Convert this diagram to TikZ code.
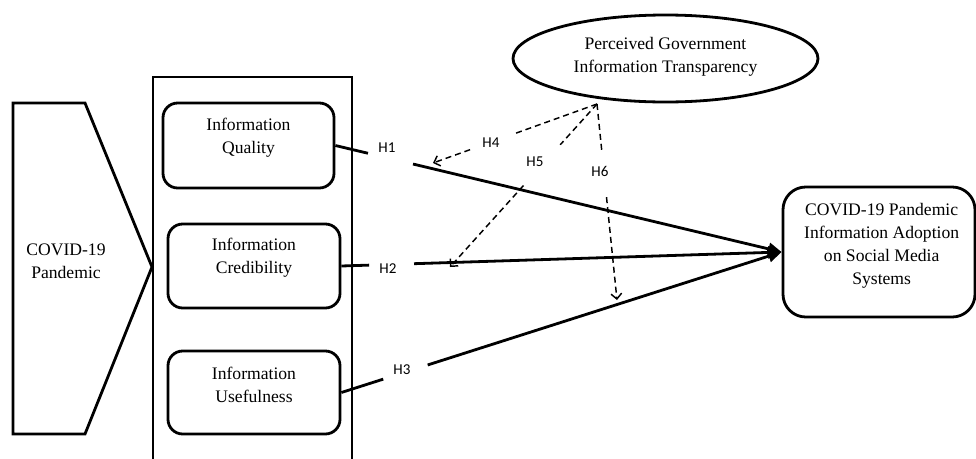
\documentclass[tikz,border=0pt]{standalone}
\usepackage{fontspec}
\setmainfont{Liberation Serif}
\newfontfamily\hfont{Carlito}
\usetikzlibrary{arrows.meta,shapes.geometric}
\begin{document}
\begin{tikzpicture}[x=0.75pt,y=-0.75pt,
  solidline/.style={line width=2.1pt},
  rbox/.style={draw,line width=2.1pt,rounded corners=11pt,inner sep=0pt},
  btxt/.style={font=\fontsize{13.2pt}{17.25pt}\selectfont,align=center,inner sep=0pt},
  hlab/.style={font=\hfont\fontsize{11.3pt}{13pt}\selectfont,inner sep=0pt},
  mainline/.style={line width=2.1pt},
  mainarrow/.style={line width=2.1pt,-{Triangle[length=10pt,width=9pt]}},
  dashline/.style={line width=1.1pt,dash pattern=on 4.5pt off 3pt},
  dasharrow/.style={dashline,-{Straight Barb[length=4pt,width=8pt]}},
]
\useasboundingbox (0,0) rectangle (976,458);
\clip (0,0) rectangle (976,458);

% chevron
\draw[solidline,line join=miter] (13,103) -- (85,103) -- (152,267) -- (85,434) -- (13,434) -- cycle;
\node[btxt] (cv) at (66,261) {COVID-19\\Pandemic};

% container
\draw[solidline] (153,77) rectangle (352,480);

% boxes
\node[rbox,minimum width=128.25pt,minimum height=63.75pt] (b1) at (248.5,145.5) {};
\node[btxt] (t1) at ([yshift=6pt]b1.center) {Information\\Quality};
\node[rbox,minimum width=129pt,minimum height=63pt] (b2) at (254,266) {};
\node[btxt] (t2) at ([yshift=6pt]b2.center) {Information\\Credibility};
\node[rbox,minimum width=129pt,minimum height=62.25pt] (b3) at (254,392.5) {};
\node[btxt] (t3) at ([yshift=6pt]b3.center) {Information\\Usefulness};

% target
\node[rbox,rounded corners=17pt,minimum width=144pt,minimum height=97.5pt] (tg) at (879,252) {};
\node[btxt] (tt) at ([xshift=2pt,yshift=5pt]tg.center) {COVID-19 Pandemic\\Information Adoption\\on Social Media\\Systems};

% ellipse
\node[draw,ellipse,line width=2.1pt,minimum width=228.75pt,minimum height=65.25pt,inner sep=0pt] (pg) at (665.5,58.5) {};
\node[btxt] (pt) at ([yshift=1.5pt]pg.center) {Perceived Government\\Information Transparency};

% main paths
\path (b1.east) -- (tg.west) coordinate[pos=0.073] (h1a) coordinate[pos=0.174] (h1b);
\draw[mainline] (b1.east) -- (h1a);
\draw[mainarrow] (h1b) -- (tg.west);
\node[hlab] (H1) at (387,148) {H1};

\path (b2.east) -- (tg.west) coordinate[pos=0.063] (h2a) coordinate[pos=0.165] (h2b);
\draw[mainline] (b2.east) -- (h2a);
\draw[mainarrow] (h2b) -- (tg.west);
\node[hlab] (H2) at (388,269) {H2};

\path (b3.east) -- (tg.west) coordinate[pos=0.095] (h3a) coordinate[pos=0.196] (h3b);
\draw[mainline] (b3.east) -- (h3a);
\draw[mainarrow] (h3b) -- (tg.west);
\node[hlab] (H3) at (402,370) {H3};

% moderating paths
\coordinate (src) at (597,104);
\coordinate (e4) at (433,163);
\coordinate (e5) at (450,267);
\coordinate (e6) at (617,300);

\path (src) -- (e4) coordinate[pos=0.5] (d4a) coordinate[pos=0.774] (d4b);
\draw[dashline] (src) -- (d4a);
\draw[dasharrow] (d4b) -- (e4);
\node[hlab] (H4) at (491,143) {H4};

\path (src) -- (e5) coordinate[pos=0.25] (d5a) coordinate[pos=0.5] (d5b);
\draw[dashline] (src) -- (d5a);
\draw[dasharrow] (d5b) -- (e5);
\node[hlab] (H5) at (535,162) {H5};

\path (src) -- (e6) coordinate[pos=0.24] (d6a) coordinate[pos=0.475] (d6b);
\draw[dashline] (src) -- (d6a);
\draw[dasharrow] (d6b) -- (e6);
\node[hlab] (H6) at (600,171) {H6};
\end{tikzpicture}
\end{document}
